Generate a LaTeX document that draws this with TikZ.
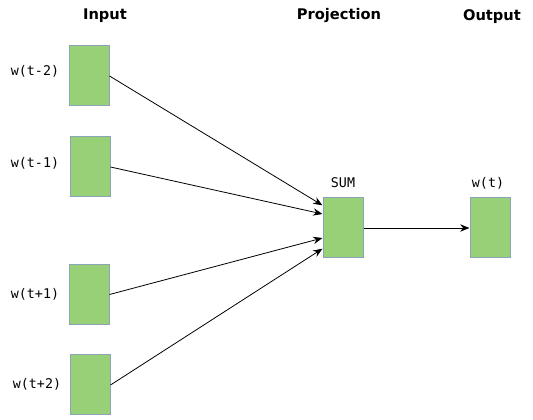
\documentclass[tikz,border=0pt]{standalone}
\usepackage{fontspec}
\newfontfamily\headfont{DejaVu Sans}
\newfontfamily\wordfont{DejaVu Sans Mono}
\usetikzlibrary{arrows.meta}
\definecolor{boxgreen}{HTML}{97D077}
\definecolor{boxedge}{HTML}{8AA4B8}

\begin{document}
\begin{tikzpicture}[x=0.75pt,y=-0.75pt]
	\tikzstyle{every node}=[inner sep=0pt]
	\tikzstyle{word}=[draw=boxedge, line width=0.75pt, fill=boxgreen, minimum width=30pt, minimum height=45pt]
	\tikzstyle{head}=[font=\headfont\bfseries\fontsize{11}{13}\selectfont]
	\tikzstyle{lbl}=[font=\wordfont\fontsize{10}{12}\selectfont]
	\tikzstyle{link}=[-{Stealth[length=7pt,width=5.5pt]}, line width=0.6pt]
	\useasboundingbox (0,0) rectangle (533,420);
	\draw (105,16) node (hin) [head] {Input};
	\draw (339,16) node (hproj) [head] {Projection};
	\draw (492,17) node (hout) [head] {Output};
	\draw (89,76) node (w1) [word] {};
	\draw (90,167) node (w2) [word] {};
	\draw (89,294.5) node (w3) [word] {};
	\draw (90,385) node (w4) [word] {};
	\draw (343,228) node (sum) [word] {};
	\draw (490,228) node (wt) [word] {};
	\draw (35,71) node (l1) [lbl] {w(t-2)};
	\draw (35,163) node (l2) [lbl] {w(t-1)};
	\draw (35,294) node (l3) [lbl] {w(t+1)};
	\draw (37,384) node (l4) [lbl] {w(t+2)};
	\draw (343,183) node (lsum) [lbl] {SUM};
	\draw (488,183) node (lwt) [lbl] {w(t)};
	\draw[link] (w1.east) -- ([yshift=17pt]sum.west);
	\draw[link] (w2.east) -- ([yshift=10.5pt]sum.west);
	\draw[link] (w3.east) -- ([yshift=-7.5pt]sum.west);
	\draw[link] (w4.east) -- ([yshift=-15.5pt]sum.west);
	\draw[link] (sum) -- (wt);
\end{tikzpicture}
\end{document}
